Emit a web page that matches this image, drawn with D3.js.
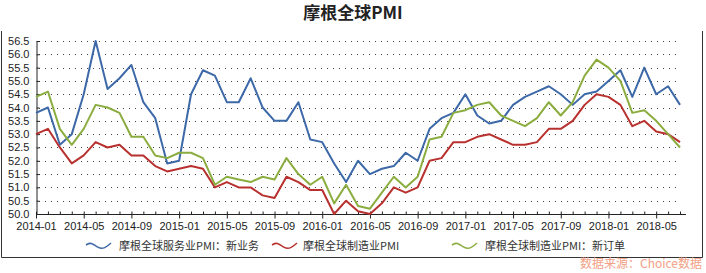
<!DOCTYPE html>
<html>
<head>
    <meta charset="utf-8">
    <title>摩根全球PMI</title>
    <script src="https://cdn.jsdelivr.net/npm/d3@7/dist/d3.min.js"></script>
    <style>
        body { margin: 0; background: #fff; }
        text { font-family: "Liberation Sans", Arial, "Noto Sans CJK SC", sans-serif; }
    </style>
</head>
<body>
<script type="text/javascript">
    // 2014-01 .. 2018-07, monthly
    var startMonth = new Date(2014, 0, 1);
    var tickLabels = ["2014-01","2014-05","2014-09","2015-01","2015-05","2015-09","2016-01",
                      "2016-05","2016-09","2017-01","2017-05","2017-09","2018-01","2018-05"];
    var yTicks = [50.0,50.5,51.0,51.5,52.0,52.5,53.0,53.5,54.0,54.5,55.0,55.5,56.0,56.5];

    var servicesNewBiz = [53.8,54.0,52.6,53.0,54.5,56.5,54.7,55.1,55.6,54.2,53.6,51.9,52.0,
                          54.5,55.4,55.2,54.2,54.2,55.1,54.0,53.5,53.5,54.2,52.8,52.7,51.9,
                          51.2,52.0,51.5,51.7,51.8,52.3,52.0,53.2,53.6,53.8,54.5,53.7,53.4,
                          53.5,54.1,54.4,54.6,54.8,54.5,54.1,54.5,54.6,55.0,55.4,54.4,55.5,
                          54.5,54.8,54.1];
    var mfgPMI = [53.0,53.2,52.5,51.9,52.2,52.7,52.5,52.6,52.2,52.2,51.8,51.6,51.7,
                  51.8,51.7,51.0,51.2,51.0,51.0,50.7,50.6,51.4,51.2,50.9,50.9,50.0,
                  50.5,50.1,50.0,50.4,51.0,50.8,51.0,52.0,52.1,52.7,52.7,52.9,53.0,
                  52.8,52.6,52.6,52.7,53.2,53.2,53.5,54.1,54.5,54.4,54.1,53.3,53.5,
                  53.1,53.0,52.7];
    var mfgNewOrders = [54.4,54.6,53.2,52.6,53.2,54.1,54.0,53.8,52.9,52.9,52.2,52.1,52.3,
                        52.3,52.1,51.1,51.4,51.3,51.2,51.4,51.3,52.1,51.5,51.1,51.4,50.4,
                        51.1,50.3,50.2,50.8,51.4,51.0,51.4,52.8,52.9,53.8,53.9,54.1,54.2,
                        53.7,53.5,53.3,53.6,54.2,53.7,54.2,55.2,55.8,55.5,55.0,53.8,53.9,
                        53.5,53.0,52.5];

    var seriesNames = ["摩根全球服务业PMI：新业务", "摩根全球制造业PMI", "摩根全球制造业PMI：新订单"];
    var seriesColors = ["#3d69a8", "#b8312f", "#8bad3f"];
    var allSeries = [servicesNewBiz, mfgPMI, mfgNewOrders];

    var width = 706, height = 273;
    var months = d3.timeMonth.range(startMonth, d3.timeMonth.offset(startMonth, servicesNewBiz.length));
    var fmt = d3.timeFormat("%Y-%m");

    var svg = d3.select("body").append("svg")
        .attr("width", width)
        .attr("height", height);

    svg.append("rect").attr("width", width).attr("height", height).attr("fill", "#fff");

    // frame
    svg.append("path")
        .attr("d", "M1.5,31V257.5H702.5V31")
        .attr("fill", "none").attr("stroke", "#333").attr("stroke-width", 1);

    svg.append("text")
        .attr("x", 353).attr("y", 19)
        .attr("text-anchor", "middle")
        .style("font-family", "'Noto Sans CJK SC', sans-serif")
        .style("font-weight", "bold")
        .style("font-size", "17px")
        .attr("fill", "#222")
        .text("摩根全球PMI");

    var x = d3.scaleLinear().domain([0, 54.5]).range([36, 686]);
    var y = d3.scaleLinear().domain([50, 56.5]).range([214, 41]);

    // dotted grid
    svg.append("g").selectAll("line")
        .data(yTicks.slice(1))
        .join("line")
        .attr("x1", 39).attr("x2", 680)
        .attr("y1", function(d) { return Math.round(y(d)) + 0.5; })
        .attr("y2", function(d) { return Math.round(y(d)) + 0.5; })
        .attr("stroke", "#444")
        .attr("stroke-width", 1)
        .attr("stroke-dasharray", "1,5");

    // y axis
    var yAxis = svg.append("g")
        .attr("transform", "translate(36.5,0)")
        .call(d3.axisLeft(y).tickValues(yTicks).tickFormat(d3.format(".1f")).tickSize(-3).tickPadding(7));
    yAxis.selectAll("text").style("font-size", "11px").attr("fill", "#222");
    yAxis.selectAll("line,path").attr("stroke", "#222");

    // x axis: monthly minor ticks inside, labelled ticks every 4 months
    var idx = d3.range(months.length);
    var xMinor = svg.append("g")
        .attr("transform", "translate(0,214.5)")
        .call(d3.axisBottom(x).tickValues(idx).tickSize(-3).tickFormat(""));
    xMinor.select(".domain").attr("d", "M36,0H686").attr("stroke", "#222");
    xMinor.selectAll("line").attr("stroke", "#222");

    var majorIdx = idx.filter(function(i) { return tickLabels.indexOf(fmt(months[i])) >= 0; });
    var xMajor = svg.append("g")
        .attr("transform", "translate(0,214.5)")
        .call(d3.axisBottom(x).tickValues(majorIdx).tickSize(4).tickPadding(4)
            .tickFormat(function(i) { return fmt(months[i]); }));
    xMajor.select(".domain").remove();
    xMajor.selectAll("line").attr("stroke", "#222");
    xMajor.selectAll("text").style("font-size", "11px").attr("fill", "#222");

    // lines
    var line = d3.line()
        .x(function(d, i) { return x(i); })
        .y(function(d) { return y(d); });

    svg.append("g").selectAll("path")
        .data(allSeries)
        .join("path")
        .attr("d", line)
        .attr("fill", "none")
        .attr("stroke", function(d, i) { return seriesColors[i]; })
        .attr("stroke-width", 2)
        .attr("stroke-linejoin", "round");

    // legend
    var legendX = [86, 272, 452];
    var wave = d3.line().curve(d3.curveBasis);
    var legend = svg.append("g").selectAll("g")
        .data(seriesNames)
        .join("g")
        .attr("transform", function(d, i) { return "translate(" + legendX[i] + ",246)"; });
    legend.append("path")
        .attr("d", wave([[0,-1],[5,-4],[12,2],[18,3],[25,-3]]))
        .attr("fill", "none")
        .attr("stroke", function(d, i) { return seriesColors[i]; })
        .attr("stroke-width", 1.5);
    legend.append("text")
        .attr("x", function(d, i) { return i == 1 ? 31 : 33; })
        .attr("y", 4)
        .style("font-size", "11px")
        .style("font-family", "'Noto Sans CJK SC', sans-serif")
        .attr("fill", "#333")
        .text(function(d) { return d; });

    // source note
    svg.append("text")
        .attr("x", 702).attr("y", 268)
        .attr("text-anchor", "end")
        .style("font-size", "12px")
        .style("font-family", "'Noto Sans CJK SC', sans-serif")
        .attr("fill", "#f2a085")
        .text("数据来源：Choice数据");
</script>
</body>
</html>
